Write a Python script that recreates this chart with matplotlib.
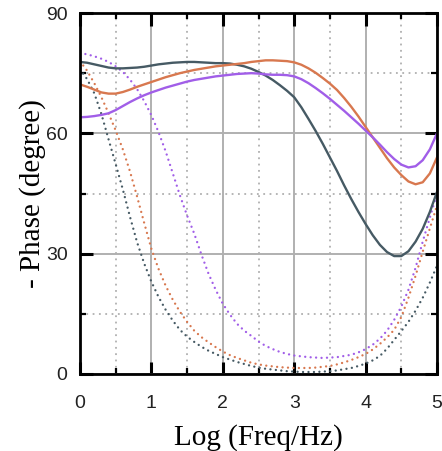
import numpy as np
import matplotlib.pyplot as plt
from matplotlib.ticker import MultipleLocator

# log frequency positions (0 to 5 in steps of 0.1)
x = np.round(np.arange(0, 5.01, 0.1), 1)

# solid curves, values
dark_solid = [77.8, 77.6, 77.2, 76.8, 76.4, 76.2, 76.2, 76.3, 76.4, 76.6,
              76.9, 77.2, 77.4, 77.6, 77.7, 77.8, 77.8, 77.7, 77.6, 77.5,
              77.5, 77.4, 77.1, 76.7, 76.1, 75.3, 74.4, 73.3, 72.0, 70.6,
              69.0, 66.5, 63.6, 60.6, 57.4, 54.0, 50.6, 47.0, 43.6, 40.4,
              37.4, 34.6, 32.2, 30.4, 29.4, 29.4, 30.6, 33.0, 36.2, 40.4,
              45.4]
orange_solid = [72.2, 71.6, 70.9, 70.2, 69.9, 69.9, 70.3, 70.9, 71.6, 72.2,
                72.8, 73.4, 74.0, 74.5, 75.0, 75.4, 75.8, 76.1, 76.4, 76.7,
                76.9, 77.1, 77.3, 77.5, 77.8, 78.0, 78.2, 78.2, 78.1, 78.0,
                77.7, 77.1, 76.2, 75.1, 73.8, 72.4, 70.8, 68.8, 66.6, 64.2,
                61.6, 59.0, 56.4, 53.8, 51.5, 49.6, 48.0, 47.3, 47.8, 50.0,
                54.0]
purple_solid = [64.0, 64.1, 64.3, 64.6, 65.0, 65.8, 66.8, 67.8, 68.7, 69.5,
                70.2, 70.8, 71.4, 71.9, 72.4, 72.9, 73.3, 73.6, 73.9, 74.2,
                74.4, 74.6, 74.8, 74.9, 75.0, 74.9, 74.7, 74.6, 74.6, 74.5,
                74.2, 73.5, 72.5, 71.3, 70.0, 68.6, 67.1, 65.6, 64.0, 62.4,
                60.7, 59.0, 57.2, 55.3, 53.6, 52.2, 51.5, 51.8, 53.3, 56.0,
                60.0]

# dotted curves
dark_dot = [76.0, 73.5, 70.0, 64.8, 58.5, 52.3, 46.0, 39.2, 32.8, 27.5,
            23.0, 19.2, 16.0, 13.3, 11.0, 9.3, 8.0, 6.8, 5.8, 5.0,
            4.2, 3.6, 3.0, 2.5, 2.0, 1.6, 1.3, 1.1, 0.9, 0.7,
            0.6, 0.5, 0.5, 0.5, 0.6, 0.7, 0.9, 1.2, 1.5, 2.0,
            2.6, 3.4, 4.5, 6.3, 8.5, 10.7, 13.0, 15.8, 19.0, 22.8,
            27.0]
orange_dot = [78.0, 75.6, 72.5, 69.0, 65.0, 60.7, 56.0, 50.5, 44.2, 37.6,
              31.2, 26.2, 22.0, 18.5, 15.5, 13.0, 10.8, 9.2, 7.9, 6.7,
              5.6, 4.7, 4.0, 3.4, 2.8, 2.4, 2.1, 1.9, 1.7, 1.6,
              1.5, 1.5, 1.5, 1.6, 1.8, 2.0, 2.4, 2.9, 3.5, 4.2,
              5.0, 6.1, 7.5, 9.1, 11.0, 14.2, 19.0, 24.5, 30.5, 36.3,
              42.0]
purple_dot = [80.0, 79.7, 79.2, 78.6, 77.8, 76.7, 75.3, 73.4, 71.0, 68.0,
              64.5, 60.3, 55.5, 50.0, 44.5, 39.5, 35.0, 29.8, 25.0, 21.0,
              17.5, 14.8, 12.5, 10.8, 9.5, 8.1, 7.0, 6.2, 5.5, 5.0,
              4.6, 4.4, 4.2, 4.1, 4.0, 4.1, 4.2, 4.5, 4.8, 5.4,
              6.2, 7.3, 8.8, 10.8, 13.5, 16.8, 21.0, 26.5, 33.0, 39.0,
              45.0]

c_dark = '#465a64'
c_orange = '#d8784f'
c_purple = '#a15ee8'

fig = plt.figure(figsize=(4.42, 4.51), dpi=100)
ax = fig.add_axes([80 / 442, 77 / 451, 357 / 442, 361 / 451])

dots = dict(linestyle=(0, (0.01, 2.3)), linewidth=1.7, dash_capstyle='round')
ax.plot(x, dark_dot, color=c_dark, **dots)
ax.plot(x, orange_dot, color=c_orange, **dots)
ax.plot(x, purple_dot, color=c_purple, **dots)

ax.plot(x, dark_solid, color=c_dark, linewidth=1.7)
ax.plot(x, orange_solid, color=c_orange, linewidth=1.7)
ax.plot(x, purple_solid, color=c_purple, linewidth=1.7)

ax.set_xlim(0, 5)
ax.set_ylim(0, 90)
ax.xaxis.set_major_locator(MultipleLocator(1))
ax.xaxis.set_minor_locator(MultipleLocator(0.5))
ax.yaxis.set_major_locator(MultipleLocator(30))
ax.yaxis.set_minor_locator(MultipleLocator(15))

ax.set_axisbelow(True)
ax.grid(which='major', color='#b0b0b0', linewidth=1.4, linestyle='-')
ax.grid(which='minor', color='#b0b0b0', linewidth=1.3, linestyle=(0, (1, 2.5)))

for s in ax.spines.values():
    s.set_linewidth(2)

ax.tick_params(which='both', direction='in', top=True, right=True)
ax.tick_params(which='major', length=9, width=2.2)
ax.tick_params(which='minor', length=4.5, width=1.6)
ax.tick_params(axis='x', which='major', pad=15)
ax.tick_params(axis='y', which='major', pad=9)

for lab in ax.get_xticklabels() + ax.get_yticklabels():
    lab.set_fontfamily('Liberation Sans')
    lab.set_fontsize(14)
    lab.set_color('#222222')

ax.set_xlabel('Log (Freq/Hz)', fontfamily='Liberation Serif', fontsize=21, labelpad=9)
ax.set_ylabel('- Phase (degree)', fontfamily='Liberation Serif', fontsize=21, labelpad=0)

plt.savefig('out.png', dpi=100)
